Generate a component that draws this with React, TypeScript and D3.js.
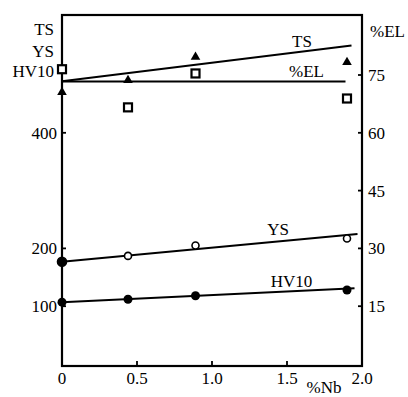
import React from "react";
import * as d3 from "d3";

// %Nb positions of the measured samples
const nb = [0, 0.44, 0.89, 1.9];

// left axis (MPa / HV)
const tsValues = [470, 491, 531, 522];
const ysValues = [177, 187, 205, 217];
const hvValues = [107, 112, 118, 128];
// right axis (%EL)
const elValues = [76.5, 66.6, 75.4, 68.9];

// fitted lines: [%Nb, value]
const tsFit: [number, number][] = [[0, 489], [1.93, 551]];
const ysFit: [number, number][] = [[0, 177], [1.97, 225]];
const hvFit: [number, number][] = [[0, 107], [1.95, 131]];
const elFit: [number, number][] = [[0, 73.3], [1.89, 73.3]];

const xTicks = [0, 0.5, 1.0, 1.5, 2.0];
const leftTicks = [100, 200, 400];
const rightTicks = [15, 30, 45, 60, 75];

const W = 408;
const H = 397;
const plot = { left: 62, right: 362, top: 15, bottom: 366 };

export default function App() {
  const x = d3.scaleLinear().domain([0, 2]).range([plot.left, plot.right]);
  const yL = d3.scaleLinear().domain([0, 500]).range([364, 75]);
  const yR = d3.scaleLinear().domain([0, 75]).range([364, 75]);

  const lineL = d3.line<[number, number]>().x((d) => x(d[0])).y((d) => yL(d[1]));
  const lineR = d3.line<[number, number]>().x((d) => x(d[0])).y((d) => yR(d[1]));
  const tri = d3.symbol().type(d3.symbolTriangle).size(40)();

  const font = "'Liberation Serif', 'Times New Roman', serif";

  return (
    <svg
      width={W}
      height={H}
      style={{ position: "absolute", left: 0, top: 0, background: "#fff" }}
      fontFamily={font}
      fontSize={17}
    >
      {/* frame */}
      <rect
        x={plot.left}
        y={plot.top}
        width={plot.right - plot.left}
        height={plot.bottom - plot.top}
        fill="none"
        stroke="#000"
        strokeWidth={2.2}
      />

      {/* x ticks */}
      {xTicks.map((t) => (
        <g key={"x" + t}>
          <line x1={x(t)} x2={x(t)} y1={plot.bottom} y2={plot.bottom - 5} stroke="#000" strokeWidth={1.8} />
          <text x={x(t)} y={384} textAnchor="middle">
            {t === 0 ? "0" : t.toFixed(1)}
          </text>
        </g>
      ))}
      <text x={324} y={393} textAnchor="middle">%Nb</text>

      {/* left ticks */}
      {leftTicks.map((t) => (
        <g key={"l" + t}>
          <line x1={plot.left} x2={plot.left + 4} y1={yL(t)} y2={yL(t)} stroke="#000" strokeWidth={1.8} />
          <text x={57} y={yL(t) + 6} textAnchor="end">{t}</text>
        </g>
      ))}
      <text x={54} y={35} textAnchor="end">TS</text>
      <text x={54} y={57} textAnchor="end">YS</text>
      <text x={54} y={77} textAnchor="end">HV10</text>

      {/* right ticks */}
      {rightTicks.map((t) => (
        <g key={"r" + t}>
          <line x1={plot.right - 4} x2={plot.right} y1={yR(t)} y2={yR(t)} stroke="#000" strokeWidth={1.8} />
          <text x={368} y={yR(t) + 6}>{t}</text>
        </g>
      ))}
      <text x={370} y={37}>%EL</text>

      {/* fitted lines */}
      <path d={lineL(tsFit)!} stroke="#000" strokeWidth={2} fill="none" />
      <path d={lineL(ysFit)!} stroke="#000" strokeWidth={2} fill="none" />
      <path d={lineL(hvFit)!} stroke="#000" strokeWidth={2} fill="none" />
      <path d={lineR(elFit)!} stroke="#000" strokeWidth={2} fill="none" />

      {/* line labels */}
      <text x={x(1.6)} y={47} textAnchor="middle">TS</text>
      <text x={x(1.63)} y={77} textAnchor="middle">%EL</text>
      <text x={x(1.44)} y={235} textAnchor="middle">YS</text>
      <text x={x(1.53)} y={287} textAnchor="middle">HV10</text>

      {/* TS triangles */}
      {nb.map((n, i) => (
        <path key={"ts" + i} d={tri!} transform={`translate(${x(n)},${yL(tsValues[i])})`} fill="#000" />
      ))}
      {/* %EL squares */}
      {nb.map((n, i) => (
        <rect
          key={"el" + i}
          x={x(n) - 4}
          y={yR(elValues[i]) - 4}
          width={8}
          height={8}
          fill="#fff"
          stroke="#000"
          strokeWidth={2.2}
        />
      ))}
      {/* YS circles (first one filled) */}
      {nb.map((n, i) => (
        <circle
          key={"ys" + i}
          cx={x(n)}
          cy={yL(ysValues[i])}
          r={i === 0 ? 4.5 : 3.5}
          fill={i === 0 ? "#000" : "#fff"}
          stroke="#000"
          strokeWidth={1.6}
        />
      ))}
      {/* HV10 dots */}
      {nb.map((n, i) => (
        <circle key={"hv" + i} cx={x(n)} cy={yL(hvValues[i])} r={4.5} fill="#000" />
      ))}
    </svg>
  );
}
